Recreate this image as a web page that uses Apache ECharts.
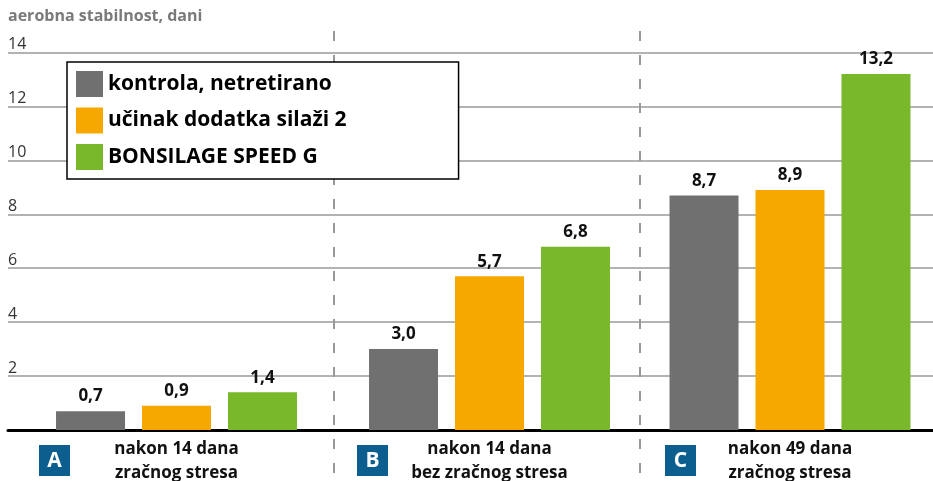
<!DOCTYPE html>
<html><head><meta charset="utf-8">
<script src="https://cdn.jsdelivr.net/npm/echarts@6/dist/echarts.min.js"></script>
<style>html,body{margin:0;padding:0;background:#fff}#c{width:933px;height:481px}</style>
</head><body><div id="c"></div>
<script>
const yTitle = 'aerobna stabilnost, dani';
const groupLabels = ['nakon 14 dana\nzračnog stresa', 'nakon 14 dana\nbez zračnog stresa', 'nakon 49 dana\nzračnog stresa'];
const groupBadges = ['A', 'B', 'C'];
const seriesNames = ['kontrola, netretirano', 'učinak dodatka silaži 2', 'BONSILAGE SPEED G'];
const kontrola = [0.7, 3.0, 8.7];
const ucinak = [0.9, 5.7, 8.9];
const bonsilage = [1.4, 6.8, 13.2];
const yTicks = [0, 2, 4, 6, 8, 10, 12, 14];

const seriesValues = [kontrola, ucinak, bonsilage];
const colors = ['#707070', '#f6a800', '#78b82a'];
const FONT = '"Open Sans", sans-serif';
const groupCenters = [176.5, 489.5, 790];
const GW = 300, TOP = 52.5, BOTTOM = 51;

const chart = echarts.init(document.getElementById('c'));
const grids = [{left: 8, right: 0, top: TOP, bottom: BOTTOM, outerBoundsMode: 'none', containLabel: false}];
const xAxes = [{
  gridIndex: 0, type: 'category', data: [''], offset: 1.5,
  axisLine: {lineStyle: {color: '#000', width: 3}}, axisTick: {show: false}, axisLabel: {show: false}
}];
const yAxes = [{
  gridIndex: 0, type: 'value', min: yTicks[0], max: yTicks[yTicks.length - 1], interval: yTicks[1] - yTicks[0],
  axisLine: {show: false}, axisTick: {show: false},
  splitLine: {lineStyle: {color: '#9a9a9a', width: 1.5}},
  axisLabel: {inside: true, margin: 0, verticalAlign: 'bottom', color: '#333', fontSize: 16, fontFamily: FONT,
    formatter: v => v === 0 ? '' : String(v)}
}];
const series = [];
const graphic = [];
groupLabels.forEach((lab, i) => {
  grids.push({left: groupCenters[i] - GW / 2, width: GW, top: TOP, bottom: BOTTOM, outerBoundsMode: 'none', containLabel: false});
  xAxes.push({gridIndex: i + 1, type: 'category', data: [lab],
    axisLine: {show: false}, axisTick: {show: false},
    axisLabel: {margin: 7, color: '#111', fontSize: 17, fontWeight: 'bold', lineHeight: 24, fontFamily: FONT}});
  yAxes.push({gridIndex: i + 1, type: 'value', min: yTicks[0], max: yTicks[yTicks.length - 1], show: false});
  seriesNames.forEach((nm, j) => {
    series.push({
      name: nm, type: 'bar', xAxisIndex: i + 1, yAxisIndex: i + 1,
      data: [seriesValues[j][i]], barWidth: 69, barGap: '24.6%',
      itemStyle: {color: colors[j]},
      label: {show: true, position: 'top', distance: 6, color: '#111', fontSize: 17, fontWeight: 'bold', fontFamily: FONT,
        formatter: p => p.value.toFixed(1).replace('.', ',')}
    });
  });
});
[334, 640].forEach(x => graphic.push({type: 'line', shape: {x1: x, y1: 31, x2: x, y2: 481},
  style: {stroke: '#777', lineWidth: 1.5, lineDash: [10, 14]}, z: 0}));
[39, 357, 665].forEach((x, i) => {
  graphic.push({type: 'rect', shape: {x: x, y: 445, width: 31, height: 31}, style: {fill: '#0b5e8e'}});
  graphic.push({type: 'text', x: x + 15.5, y: 461, style: {text: groupBadges[i], fill: '#fff', fontSize: 21, fontWeight: 'bold',
    fontFamily: FONT, align: 'center', verticalAlign: 'middle'}});
});

chart.setOption({
  animation: false,
  title: {text: yTitle, left: 8, top: 8, padding: 0,
    textStyle: {color: '#7a7a7a', fontSize: 16, fontWeight: 'bold', fontFamily: FONT}},
  legend: {data: seriesNames, orient: 'vertical', left: 67, top: 62, icon: 'rect',
    itemWidth: 27, itemHeight: 26, itemGap: 10.5, borderColor: '#000', borderWidth: 1.5,
    padding: [9, 112, 9, 9], backgroundColor: '#fff',
    textStyle: {color: '#000', fontSize: 21, fontWeight: 'bold', fontFamily: FONT}},
  grid: grids, xAxis: xAxes, yAxis: yAxes, series: series, graphic: graphic
});
</script></body></html>
